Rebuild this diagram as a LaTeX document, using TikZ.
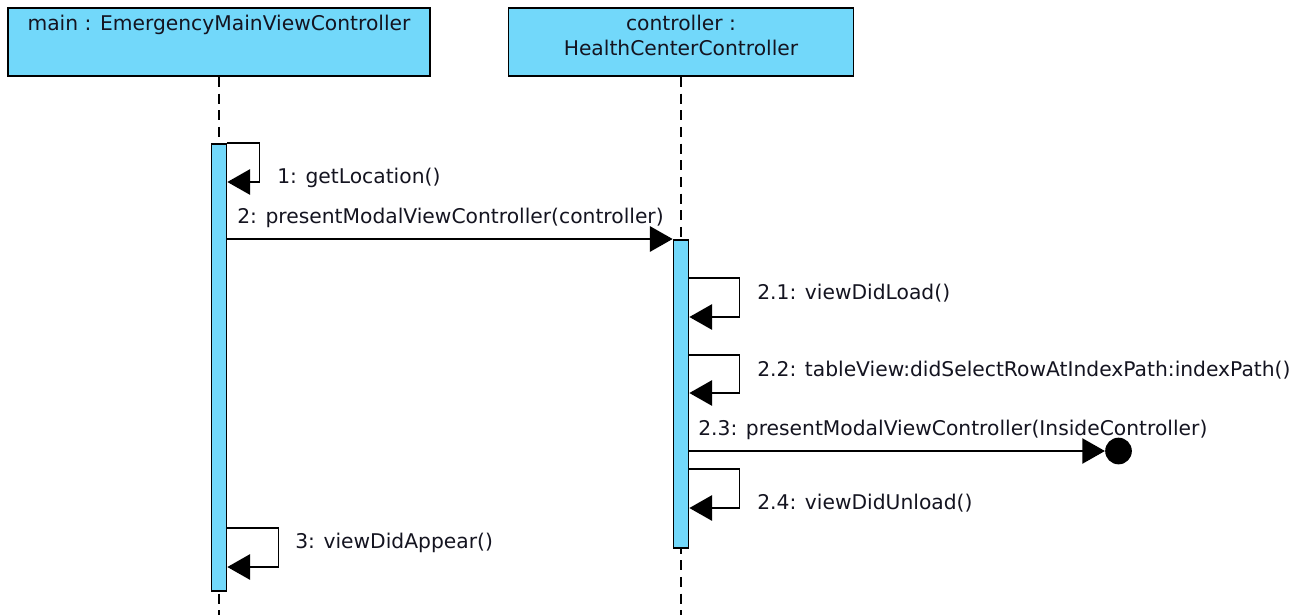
\documentclass[tikz,border=0pt]{standalone}
\usepackage{fontspec}
\setmainfont{DejaVu Sans}
\usetikzlibrary{arrows.meta}
\definecolor{lifefill}{RGB}{114,216,250}
\definecolor{inktext}{RGB}{20,20,32}
\begin{document}
\begin{tikzpicture}[x=0.75pt,y=-0.75pt,
  font=\fontsize{15.2}{19}\selectfont,
  head/.style={rectangle, draw=black, fill=lifefill, line width=1.3pt, inner sep=0pt},
  headtext/.style={anchor=base, inner sep=0pt, text=inktext},
  act/.style={rectangle, draw=black, fill=lifefill, line width=1.3pt, inner sep=0pt,
              minimum width=11.25pt, anchor=north},
  lifeline/.style={line width=1.3pt, dash pattern=on 7.5pt off 5pt},
  msg/.style={line width=1.2pt, -{Triangle[length=17pt,width=19pt]}},
  lbl/.style={anchor=base west, inner sep=0pt, text=inktext},
  endpoint/.style={circle, fill=black, minimum size=20pt, inner sep=0pt}]

\useasboundingbox (0,0) rectangle (1308,615);
\fill[white] (0,0) rectangle (1308,615);

% lifeline heads
\node[head, minimum width=316.5pt, minimum height=51pt] (main) at (219,42) {};
\node[headtext] (mainname) at (219,30) {main : EmergencyMainViewController};
\node[head, minimum width=258.75pt, minimum height=51pt] (ctrl) at (681,42) {};
\node[headtext] (ctrlname1) at (681,30) {controller :};
\node[headtext] (ctrlname2) at (681,55) {HealthCenterController};

% lifelines
\coordinate (mainend) at (219,615);
\coordinate (ctrlend) at (681,615);
\draw[lifeline] (main.south) -- (mainend);
\draw[lifeline] (ctrl.south) -- (ctrlend);

% activations
\node[act, minimum height=335.25pt] (act1) at (219,143) {};
\node[act, minimum height=231pt] (act2) at (681,239) {};

% message levels
\coordinate (y1) at (0,182);
\coordinate (y2) at (0,239);
\coordinate (y21) at (0,278);
\coordinate (y22) at (0,355);
\coordinate (y23) at (0,451);
\coordinate (y24) at (0,469);
\coordinate (y3) at (0,528);

% 1: self call
\draw[msg] (act1.north east) -- ++(32,0) |- (act1.east |- y1);
\node[lbl] (l1) at (277,183) {1: getLocation()};

% 2: call to controller
\draw[msg] (act1.east |- y2) -- (act2.north west);
\node[lbl] (l2) at (237,223) {2: presentModalViewController(controller)};

% 2.1 / 2.2 self calls
\draw[msg] (act2.east |- y21) -- ++(50,0) -- ++(0,39) -- ++(-50,0);
\node[lbl] (l21) at (757,299) {2.1: viewDidLoad()};
\draw[msg] (act2.east |- y22) -- ++(50,0) -- ++(0,38) -- ++(-50,0);
\node[lbl] (l22) at (757,376) {2.2: tableView:didSelectRowAtIndexPath:indexPath()};

% 2.3: lost message
\node[endpoint] (lost) at (1118.5,451) {};
\draw[msg] (act2.east |- y23) -- (lost.west);
\node[lbl] (l23) at (698,435) {2.3: presentModalViewController(InsideController)};

% 2.4 self call
\draw[msg] (act2.east |- y24) -- ++(50,0) -- ++(0,39) -- ++(-50,0);
\node[lbl] (l24) at (757,509) {2.4: viewDidUnload()};

% 3 self call
\draw[msg] (act1.east |- y3) -- ++(51,0) -- ++(0,39) -- ++(-51,0);
\node[lbl] (l3) at (295,548) {3: viewDidAppear()};

\end{tikzpicture}
\end{document}
